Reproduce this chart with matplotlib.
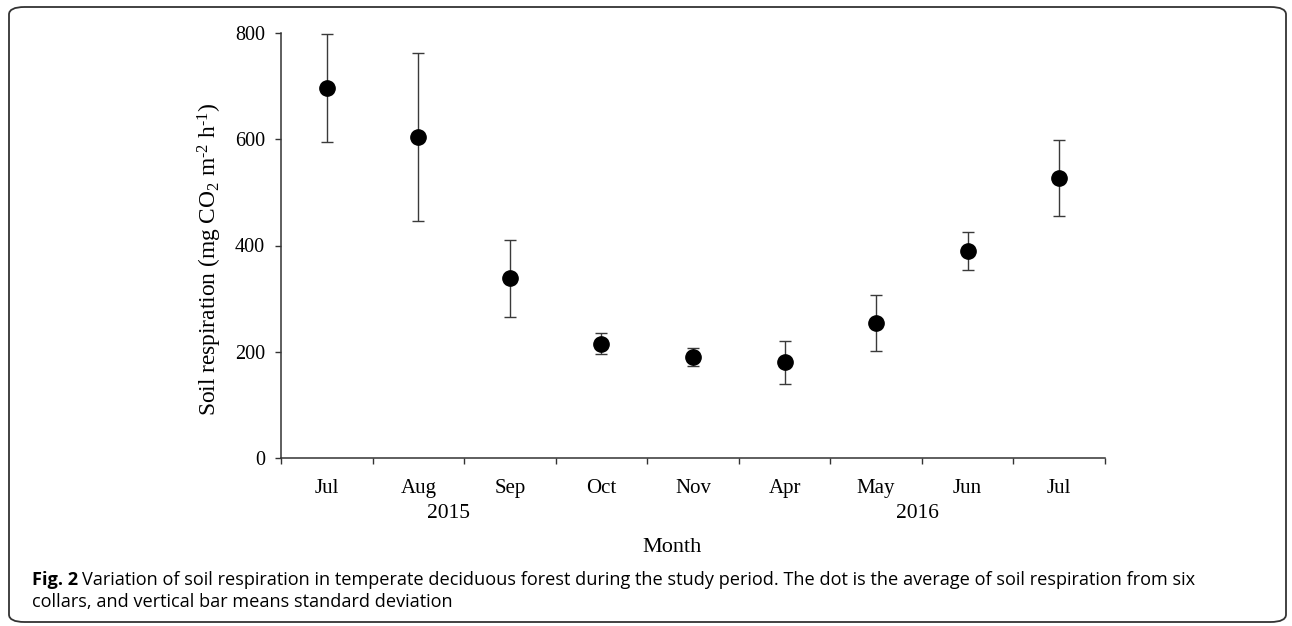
import matplotlib
matplotlib.use("Agg")
import matplotlib.pyplot as plt
from matplotlib.patches import FancyBboxPatch
from matplotlib.transforms import blended_transform_factory

plt.rcParams['mathtext.fontset'] = 'custom'
plt.rcParams['mathtext.rm'] = 'Liberation Serif'
plt.rcParams['mathtext.it'] = 'Liberation Serif:italic'

# ---- data ----
months = ['Jul', 'Aug', 'Sep', 'Oct', 'Nov', 'Apr', 'May', 'Jun', 'Jul']
means = [696, 604, 338, 215, 190, 180, 254, 389, 527]
sds = [102, 158, 73, 20, 17, 40, 52, 36, 72]
years = ['2015', '2016']
y_ticks = [0, 200, 400, 600, 800]

serif = ['Liberation Serif', 'DejaVu Serif']
sans = ['Open Sans', 'DejaVu Sans']

W, H = 1292, 626
fig = plt.figure(figsize=(W / 100, H / 100), dpi=100)
ax = fig.add_axes([281 / W, (H - 458) / H, (1105 - 281) / W, (458 - 33) / H])

xs = [i + 0.5 for i in range(len(months))]
ax.errorbar(xs, means, yerr=sds, fmt='o', color='black', ms=11,
            ecolor='#3a3a3a', elinewidth=1.0, capsize=4.5, capthick=1.0,
            zorder=3)

ax.set_xlim(0, len(months))
ax.set_ylim(0, 800)
ax.set_yticks(y_ticks)
ax.set_yticklabels([str(v) for v in y_ticks], fontfamily=serif, fontsize=14.5)

ax.set_xticks(range(len(months) + 1))
ax.set_xticklabels([])
ax.set_xticks(xs, minor=True)
ax.set_xticklabels(months, minor=True, fontfamily=serif, fontsize=15)
ax.tick_params(axis='x', which='minor', length=0, pad=15)
ax.tick_params(axis='x', which='major', length=4.5, width=1.0, color='#333333', direction='out')
ax.tick_params(axis='y', length=4.5, width=1.0, color='#333333', direction='out', pad=7)

for s in ['top', 'right']:
    ax.spines[s].set_visible(False)
for s in ['left', 'bottom']:
    ax.spines[s].set_linewidth(1.1)
    ax.spines[s].set_color('#333333')

trans = blended_transform_factory(ax.transData, fig.transFigure)
year_x = [1.83, 6.95]
for yx, yl in zip(year_x, years):
    fig.text(yx, 1 - 513 / H, yl, transform=trans, ha='center', va='center',
             fontfamily=serif, fontsize=15.5)

fig.text(672 / W, 1 - 547 / H, 'Month', ha='center', va='center',
         fontfamily=serif, fontsize=16)

ylab = 'Soil respiration (mg CO$_2$ m$^{\u20112}$ h$^{\u20111}$)'
fig.text(210 / W, 1 - 259 / H, ylab, rotation=90, ha='center', va='center',
         fontfamily=serif, fontsize=16.8)

# caption
y1, y2 = 1 - 580 / H, 1 - 602 / H
t1 = fig.text(32 / W, y1, 'Fig. 2', ha='left', va='center',
              fontfamily=sans, fontsize=13.1, fontweight='bold')
fig.canvas.draw()
bb = t1.get_window_extent()
fig.text((bb.x1 + 4) / W, y1,
         'Variation of soil respiration in temperate deciduous forest during the study period. '
         'The dot is the average of soil respiration from six',
         ha='left', va='center', fontfamily=sans, fontsize=13.1)
fig.text(32 / W, y2, 'collars, and vertical bar means standard deviation',
         ha='left', va='center', fontfamily=sans, fontsize=13.1)

# rounded border
border = FancyBboxPatch((9 / W, 4 / H), (1286 - 9) / W, (619 - 4) / H,
                        boxstyle='round,pad=0,rounding_size=0.012',
                        transform=fig.transFigure, fill=False,
                        edgecolor='#333333', linewidth=1.3)
fig.patches.append(border)

fig.savefig('out.png', dpi=100)
